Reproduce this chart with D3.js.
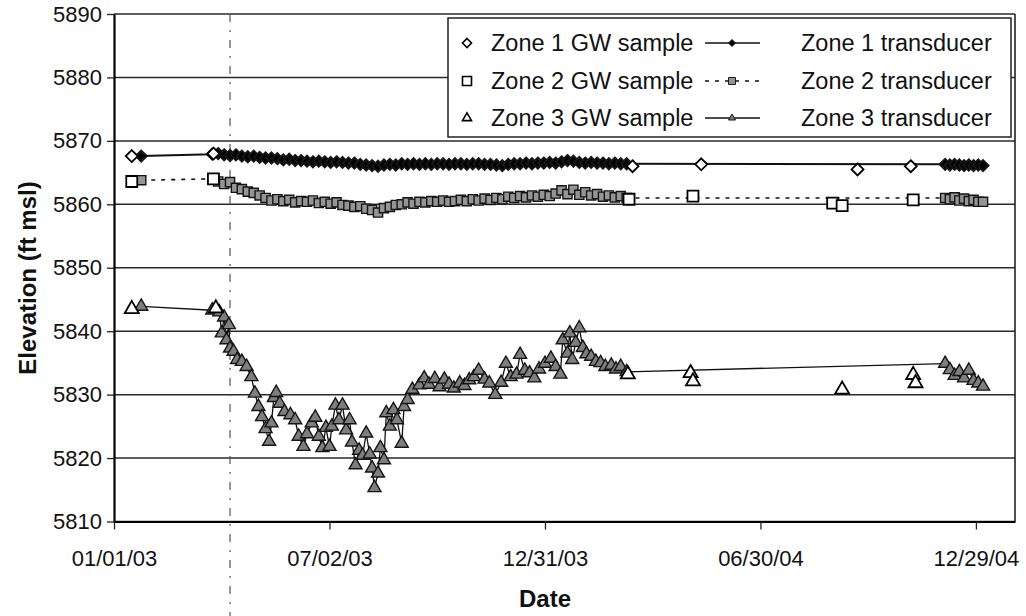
<!DOCTYPE html>
<html lang="en">
<head>
<meta charset="UTF-8">
<title>Zone elevations</title>
<script src="https://cdn.jsdelivr.net/npm/d3@7/dist/d3.min.js"></script>
<style>
  body { margin: 0; background: #fff; }
  svg text { font-family: "Liberation Sans", Arial, sans-serif; fill: #111; }
</style>
</head>
<body>
<script>
// ---- data ----
const yTicks = [5810, 5820, 5830, 5840, 5850, 5860, 5870, 5880, 5890];
const xTickDates = ["2003-01-01", "2003-07-02", "2003-12-31", "2004-06-30", "2004-12-29"];
const eventDate = "2003-04-09";

// GW samples (open markers)
const zone1GwDates = ["2003-01-16", "2003-03-26", "2004-03-14", "2004-05-11", "2004-09-20", "2004-11-04"];
const zone1GwValues = [5867.6, 5868.0, 5866.0, 5866.3, 5865.5, 5866.0];
const zone2GwDates = ["2003-01-16", "2003-03-26", "2004-03-11", "2004-05-04", "2004-08-30", "2004-09-07", "2004-11-06"];
const zone2GwValues = [5863.6, 5864.0, 5860.8, 5861.3, 5860.2, 5859.8, 5860.7];
const zone3GwDates = ["2003-01-16", "2003-03-28", "2004-03-10", "2004-05-02", "2004-05-04", "2004-09-07", "2004-11-06", "2004-11-08"];
const zone3GwValues = [5843.5, 5843.6, 5833.2, 5833.4, 5832.1, 5830.8, 5833.1, 5831.8];

// transducer records, zones 1 and 2
const earlyDates = ["2003-01-24"];
const zone1Early = [5867.6];
const zone2Early = [5863.8];
const denseDates = [
  "2003-03-25","2003-03-30","2003-04-04","2003-04-09","2003-04-14","2003-04-19","2003-04-24","2003-04-29",
  "2003-05-04","2003-05-09","2003-05-14","2003-05-19","2003-05-24","2003-05-29","2003-06-03","2003-06-08",
  "2003-06-13","2003-06-18","2003-06-23","2003-06-28","2003-07-03","2003-07-08","2003-07-13","2003-07-18",
  "2003-07-23","2003-07-28","2003-08-02","2003-08-07","2003-08-12","2003-08-17","2003-08-22","2003-08-27",
  "2003-09-01","2003-09-06","2003-09-11","2003-09-16","2003-09-21","2003-09-26","2003-10-01","2003-10-06",
  "2003-10-11","2003-10-16","2003-10-21","2003-10-26","2003-10-31","2003-11-05","2003-11-10","2003-11-15",
  "2003-11-20","2003-11-25","2003-11-30","2003-12-05","2003-12-10","2003-12-15","2003-12-20","2003-12-25",
  "2003-12-30","2004-01-04","2004-01-09","2004-01-14","2004-01-19","2004-01-24","2004-01-29","2004-02-03",
  "2004-02-08","2004-02-13","2004-02-18","2004-02-23","2004-02-28","2004-03-04","2004-03-09"];
const zone1Dense = [
  5867.9,5868.0,5867.8,5867.7,5867.8,5867.6,5867.5,5867.6,5867.4,5867.3,5867.3,5867.2,5867.0,5867.1,5866.9,5866.9,
  5866.8,5866.7,5866.8,5866.7,5866.6,5866.7,5866.6,5866.5,5866.5,5866.3,5866.2,5866.1,5866.0,5866.2,5866.3,5866.2,
  5866.4,5866.3,5866.4,5866.3,5866.4,5866.3,5866.4,5866.4,5866.3,5866.4,5866.4,5866.3,5866.4,5866.4,5866.3,5866.3,
  5866.2,5866.1,5866.3,5866.4,5866.4,5866.5,5866.4,5866.5,5866.5,5866.6,5866.5,5866.7,5866.9,5866.8,5866.6,5866.5,
  5866.6,5866.5,5866.5,5866.4,5866.5,5866.4,5866.4];
const zone2Dense = [
  5864.0,5863.6,5863.2,5863.5,5862.6,5862.4,5862.0,5861.8,5861.4,5861.0,5860.6,5860.8,5860.5,5860.7,5860.3,5860.5,
  5860.4,5860.6,5860.2,5860.4,5860.1,5860.3,5859.9,5859.8,5859.6,5859.7,5859.3,5859.1,5858.7,5859.4,5859.6,5859.9,
  5860.0,5860.3,5860.1,5860.4,5860.3,5860.5,5860.4,5860.6,5860.4,5860.5,5860.7,5860.5,5860.8,5860.6,5860.9,5860.7,
  5861.0,5860.8,5861.2,5861.0,5861.3,5861.1,5861.4,5861.2,5861.5,5861.3,5861.7,5862.2,5861.6,5862.3,5861.5,5861.9,
  5861.4,5861.6,5861.2,5861.4,5861.1,5861.3,5861.0];
const endDates = ["2004-12-03","2004-12-07","2004-12-11","2004-12-15","2004-12-19","2004-12-23","2004-12-27","2004-12-31","2005-01-04"];
const zone1End = [5866.3, 5866.2, 5866.3, 5866.2, 5866.1, 5866.2, 5866.1, 5866.2, 5866.1];
const zone2End = [5861.0, 5860.8, 5861.1, 5860.6, 5860.9, 5860.5, 5860.7, 5860.4, 5860.4];

// transducer record, zone 3
const zone3Dates = [
  "2003-01-24","2003-03-25","2003-03-31","2003-04-02","2003-04-04","2003-04-06","2003-04-08","2003-04-09","2003-04-12",
  "2003-04-15","2003-04-19","2003-04-23","2003-04-27","2003-04-30","2003-05-03","2003-05-06","2003-05-09","2003-05-12",
  "2003-05-14","2003-05-16","2003-05-18","2003-05-21","2003-05-25","2003-05-30","2003-06-03","2003-06-06","2003-06-10",
  "2003-06-13","2003-06-17","2003-06-20","2003-06-23","2003-06-26","2003-06-29","2003-07-02","2003-07-04","2003-07-07",
  "2003-07-10","2003-07-13","2003-07-16","2003-07-19","2003-07-21","2003-07-24","2003-07-27","2003-07-30","2003-08-02",
  "2003-08-05","2003-08-07","2003-08-09","2003-08-12","2003-08-14","2003-08-17","2003-08-19","2003-08-22","2003-08-25",
  "2003-08-28","2003-09-01","2003-09-03","2003-09-06","2003-09-10","2003-09-16","2003-09-20","2003-09-24","2003-09-29",
  "2003-10-03","2003-10-07","2003-10-11","2003-10-15","2003-10-20","2003-10-24","2003-10-28","2003-11-01","2003-11-05",
  "2003-11-10","2003-11-14","2003-11-19","2003-11-24","2003-11-28","2003-12-02","2003-12-07","2003-12-10","2003-12-14",
  "2003-12-18","2003-12-22","2003-12-26","2003-12-31","2004-01-05","2004-01-09","2004-01-13","2004-01-15","2004-01-19",
  "2004-01-21","2004-01-23","2004-01-26","2004-01-29","2004-02-01","2004-02-04","2004-02-08","2004-02-12","2004-02-16",
  "2004-02-20","2004-02-25","2004-02-29","2004-03-04","2004-03-09",
  "2004-12-03","2004-12-07","2004-12-11","2004-12-15","2004-12-19","2004-12-23","2004-12-27","2004-12-31","2005-01-04"];
const zone3Values = [
  5843.9,5843.3,5843.0,5839.7,5842.2,5838.6,5841.0,5837.3,5836.8,
  5835.5,5835.2,5834.4,5832.8,5830.2,5828.1,5826.5,5824.6,5822.6,
  5825.5,5829.5,5830.3,5828.6,5827.3,5826.8,5826.0,5823.4,5821.8,
  5823.8,5825.5,5826.4,5823.4,5821.6,5824.8,5821.8,5825.0,5828.3,
  5826.0,5828.3,5824.4,5826.0,5822.5,5818.9,5821.2,5820.4,5823.9,
  5820.6,5818.4,5815.3,5817.6,5821.6,5819.7,5827.1,5825.0,5827.6,
  5826.0,5822.3,5828.1,5829.2,5830.8,5831.5,5832.6,5831.6,5832.5,
  5831.2,5832.4,5831.6,5831.0,5831.8,5831.4,5832.3,5832.8,5833.8,
  5832.4,5831.8,5830.0,5831.9,5834.9,5832.8,5833.2,5836.3,5833.8,
  5833.4,5832.6,5834.0,5834.9,5835.7,5834.4,5833.2,5838.6,5836.5,
  5839.7,5835.5,5838.2,5840.5,5837.4,5836.4,5836.0,5835.2,5835.0,
  5834.4,5834.6,5834.0,5834.4,5833.6,
  5834.9,5833.9,5833.0,5833.6,5832.6,5833.8,5832.2,5831.8,5831.3];

const legendGw = ["Zone 1 GW sample", "Zone 2 GW sample", "Zone 3 GW sample"];
const legendTr = ["Zone 1 transducer", "Zone 2 transducer", "Zone 3 transducer"];

// ---- layout ----
const width = 1026, height = 616;
const margin = { top: 14, right: 11, bottom: 94.5, left: 114 };
const parse = d3.utcParse("%Y-%m-%d");

const svg = d3.select("body").append("svg")
  .attr("width", width).attr("height", height);

const x = d3.scaleUtc()
  .domain([parse("2003-01-01"), parse("2005-01-31")])
  .range([margin.left, width - margin.right]);
const y = d3.scaleLinear()
  .domain([5810, 5890])
  .range([height - margin.bottom, margin.top]);

const pts = (dates, vals) => dates.map((d, i) => ({ date: parse(d), value: vals[i] }));

const zone1Gw = pts(zone1GwDates, zone1GwValues);
const zone2Gw = pts(zone2GwDates, zone2GwValues);
const zone3Gw = pts(zone3GwDates, zone3GwValues);
const zone1Tr = pts(earlyDates, zone1Early).concat(pts(denseDates, zone1Dense), pts(endDates, zone1End));
const zone2Tr = pts(earlyDates, zone2Early).concat(pts(denseDates, zone2Dense), pts(endDates, zone2End));
const zone3Tr = pts(zone3Dates, zone3Values);

function shape(type, r) {
  if (type === "diamond") return `M0,${-r}L${r},0L0,${r}L${-r},0Z`;
  if (type === "square") return `M${-r},${-r}H${r}V${r}H${-r}Z`;
  const h = r * 1.732;
  return `M0,${-h * 2 / 3}L${r},${h / 3}L${-r},${h / 3}Z`;
}

// gridlines
svg.append("g").selectAll("line")
  .data(yTicks)
  .join("line")
  .attr("x1", margin.left).attr("x2", width - margin.right)
  .attr("y1", d => y(d)).attr("y2", d => y(d))
  .attr("stroke", "#2a2a2a").attr("stroke-width", 1.5);

// right border
svg.append("line")
  .attr("x1", width - margin.right).attr("x2", width - margin.right)
  .attr("y1", margin.top).attr("y2", height - margin.bottom)
  .attr("stroke", "#222").attr("stroke-width", 1.6);

// event line (dash-dot)
svg.append("line")
  .attr("x1", x(parse(eventDate))).attr("x2", x(parse(eventDate)))
  .attr("y1", margin.top).attr("y2", height)
  .attr("stroke", "#555").attr("stroke-width", 1.2)
  .attr("stroke-dasharray", "8,8,2,8");

// axes
const yAxis = svg.append("g")
  .attr("transform", `translate(${margin.left},0)`)
  .call(d3.axisLeft(y).tickValues(yTicks).tickSize(7).tickSizeOuter(0).tickPadding(5).tickFormat(d3.format("d")));
const xAxis = svg.append("g")
  .attr("transform", `translate(0,${height - margin.bottom})`)
  .call(d3.axisBottom(x).tickValues(xTickDates.map(parse)).tickSize(8).tickSizeOuter(0).tickPadding(21)
    .tickFormat(d3.utcFormat("%m/%d/%y")));
[xAxis, yAxis].forEach(g => {
  g.select(".domain").attr("stroke", "#000").attr("stroke-width", 2.2);
  g.selectAll(".tick line").attr("stroke", "#222").attr("stroke-width", 1.3);
  g.selectAll(".tick text").style("font-size", "22px").attr("fill", "#111");
});

// axis titles
svg.append("text")
  .attr("transform", "translate(27,278) rotate(-90)")
  .attr("text-anchor", "middle").attr("dominant-baseline", "central")
  .style("font-size", "24px").style("font-weight", "bold")
  .text("Elevation (ft msl)");
svg.append("text")
  .attr("x", 545).attr("y", 607)
  .attr("text-anchor", "middle")
  .style("font-size", "24px").style("font-weight", "bold")
  .text("Date");

// series styles
const styles = [
  { gw: zone1Gw, tr: zone1Tr, type: "diamond", gwR: 6, trR: 5.5, trFill: "#000", trStroke: 2, dash: null, lw: 2 },
  { gw: zone2Gw, tr: zone2Tr, type: "square", gwR: 5.5, trR: 4.6, trFill: "#959595", trStroke: 1.4, dash: "4,6", lw: 1.6 },
  { gw: zone3Gw, tr: zone3Tr, type: "triangle", gwR: 7, trR: 6.5, trFill: "#7e7e7e", trStroke: 1.4, dash: null, lw: 1.3 }
];

const line = d3.line().x(d => x(d.date)).y(d => y(d.value));

styles.forEach(s => {
  svg.append("path")
    .attr("d", line(s.tr))
    .attr("fill", "none").attr("stroke", "#111")
    .attr("stroke-width", s.lw)
    .attr("stroke-dasharray", s.dash);
  svg.append("g").selectAll("path")
    .data(s.tr)
    .join("path")
    .attr("transform", d => `translate(${x(d.date)},${y(d.value)})`)
    .attr("d", shape(s.type, s.trR))
    .attr("fill", s.trFill).attr("stroke", "#151515").attr("stroke-width", s.trStroke);
  svg.append("g").selectAll("path")
    .data(s.gw)
    .join("path")
    .attr("transform", d => `translate(${x(d.date)},${y(d.value)})`)
    .attr("d", shape(s.type, s.gwR))
    .attr("fill", "#fff").attr("stroke", "#000").attr("stroke-width", 1.8);
});

// legend
const legend = svg.append("g");
legend.append("rect")
  .attr("x", 448).attr("y", 18).attr("width", 563).attr("height", 119)
  .attr("fill", "#fff").attr("stroke", "#222").attr("stroke-width", 1.5);
const rowY = [43, 81, 118];
styles.forEach((s, i) => {
  const ry = rowY[i];
  legend.append("path")
    .attr("transform", `translate(467,${ry})`)
    .attr("d", shape(s.type, 4.5))
    .attr("fill", "#fff").attr("stroke", "#000").attr("stroke-width", 1.6);
  legend.append("text")
    .attr("x", 491).attr("y", ry).attr("dy", "0.36em")
    .style("font-size", "23.5px")
    .text(legendGw[i]);
  legend.append("line")
    .attr("x1", 705).attr("x2", 760).attr("y1", ry).attr("y2", ry)
    .attr("stroke", "#111").attr("stroke-width", 1.5)
    .attr("stroke-dasharray", s.dash);
  legend.append("path")
    .attr("transform", `translate(732,${ry})`)
    .attr("d", shape(s.type, 3.5))
    .attr("fill", s.trFill).attr("stroke", "#1a1a1a").attr("stroke-width", 1);
  legend.append("text")
    .attr("x", 801).attr("y", ry).attr("dy", "0.36em")
    .style("font-size", "23.5px")
    .text(legendTr[i]);
});
</script>
</body>
</html>
